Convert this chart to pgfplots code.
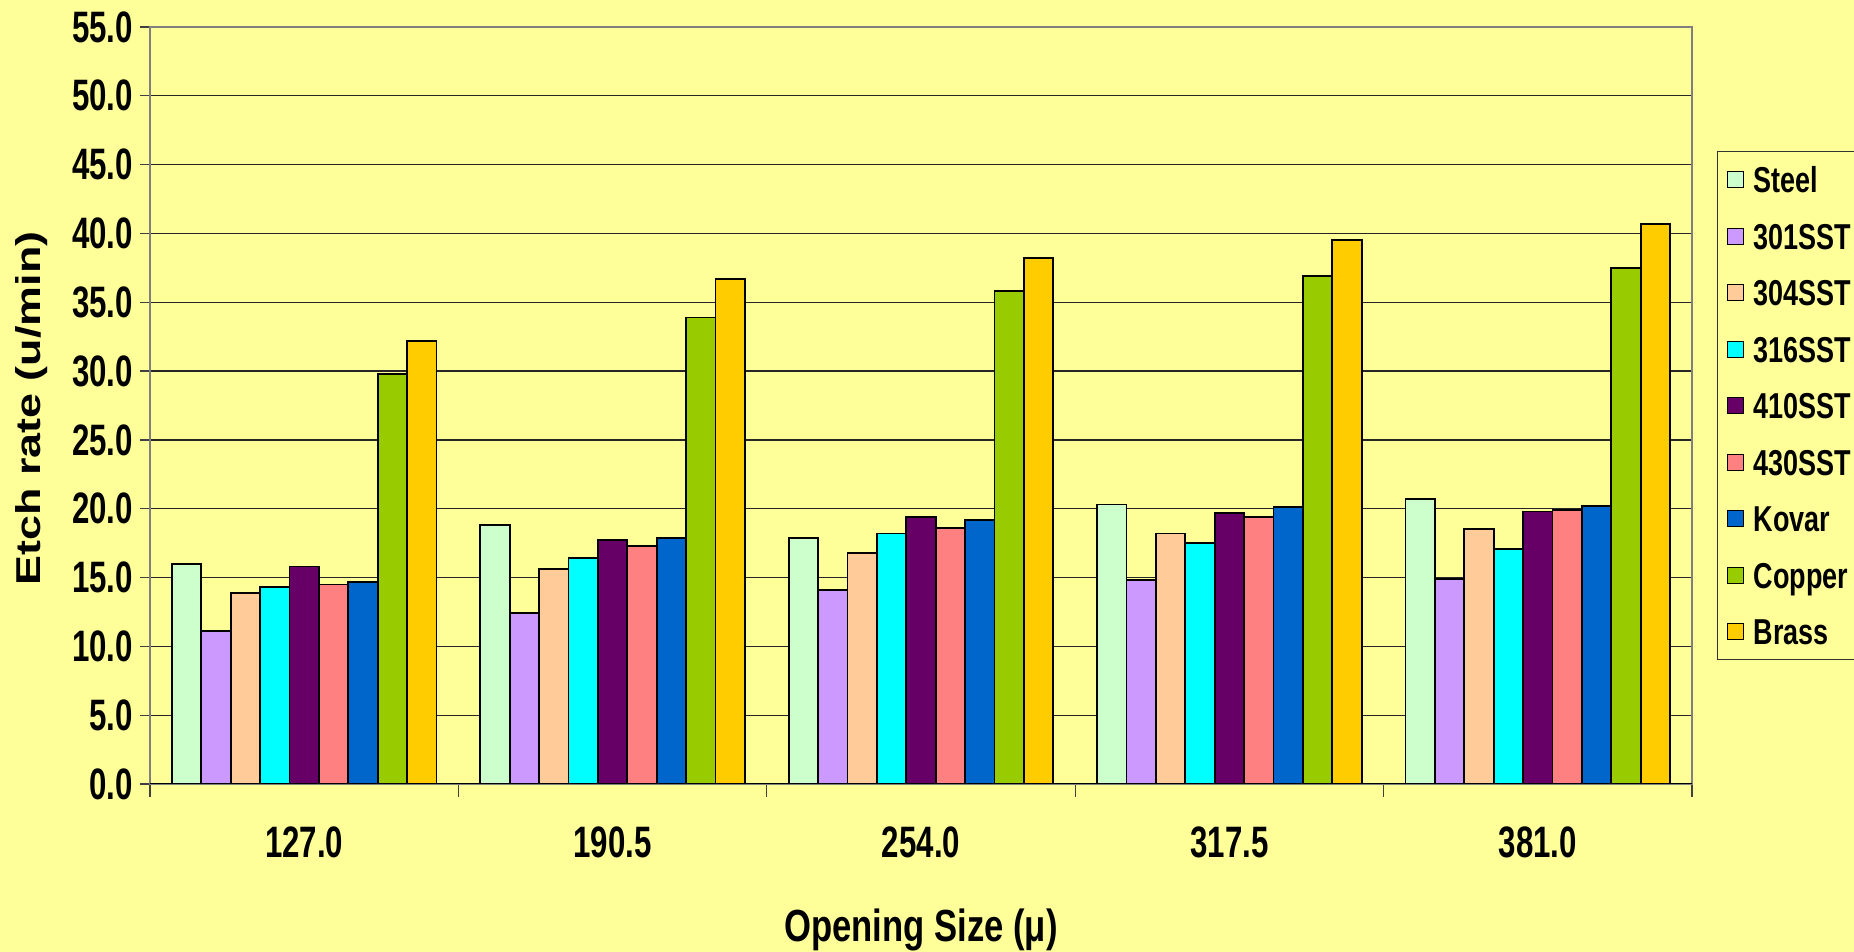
\documentclass[border=0pt]{standalone}
\usepackage{fontspec}
\usepackage{pgfplots}
\usepackage{pgfplotstable}
\pgfplotsset{compat=1.18}

\setmainfont{Liberation Sans}
\newfontfamily\tickfont{Liberation Sans}[FakeStretch=0.71]
\newfontfamily\xlabfont{Liberation Sans}[FakeStretch=0.77]
\newfontfamily\ylabfont{Liberation Sans}[FakeStretch=1.30]
\newfontfamily\legfont{Liberation Sans}[FakeStretch=0.75]

\definecolor{bg}{HTML}{FFFF99}
\definecolor{cSteel}{HTML}{CCFFCC}
\definecolor{cA}{HTML}{CC99FF}
\definecolor{cB}{HTML}{FFCC99}
\definecolor{cC}{HTML}{00FFFF}
\definecolor{cD}{HTML}{660066}
\definecolor{cE}{HTML}{FF8080}
\definecolor{cKovar}{HTML}{0066CC}
\definecolor{cCopper}{HTML}{99CC00}
\definecolor{cBrass}{HTML}{FFCC00}

% etch rate (u/min) per opening size; x = 0..4 stands for 127.0 ... 381.0
\pgfplotstableread{
x steel s301 s304 s316 s410 s430 kovar copper brass
0 16.0 11.1 13.9 14.3 15.8 14.5 14.7 29.8 32.2
1 18.8 12.4 15.6 16.4 17.7 17.3 17.9 33.9 36.7
2 17.9 14.1 16.8 18.2 19.4 18.6 19.2 35.8 38.2
3 20.3 14.8 18.2 17.5 19.7 19.4 20.1 36.9 39.5
4 20.7 14.9 18.5 17.1 19.8 19.9 20.2 37.5 40.7
}\etchdata

\begin{document}
\begin{tikzpicture}
\path[use as bounding box, fill=bg] (-75pt,-84pt) rectangle (852pt,392pt);
\begin{axis}[
  at={(0,0)}, anchor=south west,
  scale only axis, width=771pt, height=378.5pt,
  xmin=-0.5, xmax=4.5, ymin=0, ymax=55,
  ybar=0pt, bar width=0.0954,
  xtick={0,...,4},
  xticklabels={127.0,190.5,254.0,317.5,381.0},
  minor xtick={-0.5,0.5,...,4.5},
  ytick={0,5,...,55},
  tick align=outside, xtick pos=bottom, ytick pos=left,
  major tick length=5pt, minor tick length=6.3pt,
  major x tick style={draw=none},
  minor x tick style={draw=black!75, line width=0.6pt},
  y tick style={draw=black!75, line width=0.6pt},
  ymajorgrids,
  major y grid style={draw=black!85, line width=0.6pt},
  axis line style={draw=black!50, line width=1pt},
  axis background/.style={fill=bg},
  /pgf/number format/assume math mode=true,
  yticklabel={\pgfmathprintnumber[fixed,fixed zerofill,precision=1]{\tick}},
  tick label style={font=\tickfont\bfseries\fontsize{22}{22}\selectfont},
  xticklabel style={yshift=-13pt},
  xlabel={Opening Size (μ)},
  ylabel={Etch rate (u/min)},
  xlabel style={font=\xlabfont\bfseries\fontsize{22.5}{22.5}\selectfont,
    at={(rel axis cs:0.5,-0.2083)}, anchor=base},
  ylabel style={font=\ylabfont\bfseries\fontsize{17.25}{17.25}\selectfont,
    at={(rel axis cs:-0.0709,0.496)}, anchor=base},
  every axis plot post/.append style={
    draw=black, line width=0.9pt,
    legend image code/.code={
      \draw[##1, line width=0.6pt] (0pt,-4pt) rectangle (8pt,4pt);}},
  legend cell align=left,
  legend style={
    at={(rel axis cs:1.0162,0.8362)}, anchor=north west,
    fill=bg, draw=black!80, line width=0.6pt,
    font=\legfont\bfseries\fontsize{18}{18}\selectfont,
    inner xsep=4.5pt, inner ysep=7.5pt,
    row sep=15.25pt, column sep=5pt,
    nodes={inner sep=0pt, text height=13pt, text depth=0pt},
  },
]
\addplot[fill=cSteel]  table[x=x, y=steel]  {\etchdata};
\addplot[fill=cA]      table[x=x, y=s301]   {\etchdata};
\addplot[fill=cB]      table[x=x, y=s304]   {\etchdata};
\addplot[fill=cC]      table[x=x, y=s316]   {\etchdata};
\addplot[fill=cD]      table[x=x, y=s410]   {\etchdata};
\addplot[fill=cE]      table[x=x, y=s430]   {\etchdata};
\addplot[fill=cKovar]  table[x=x, y=kovar]  {\etchdata};
\addplot[fill=cCopper] table[x=x, y=copper] {\etchdata};
\addplot[fill=cBrass]  table[x=x, y=brass]  {\etchdata};
\legend{Steel,301SST,304SST,316SST,410SST,430SST,Kovar,Copper,Brass}
\draw[black, line width=1pt] (axis cs:-0.5,0) -- (axis cs:4.5,0);
\end{axis}
\end{tikzpicture}
\end{document}
